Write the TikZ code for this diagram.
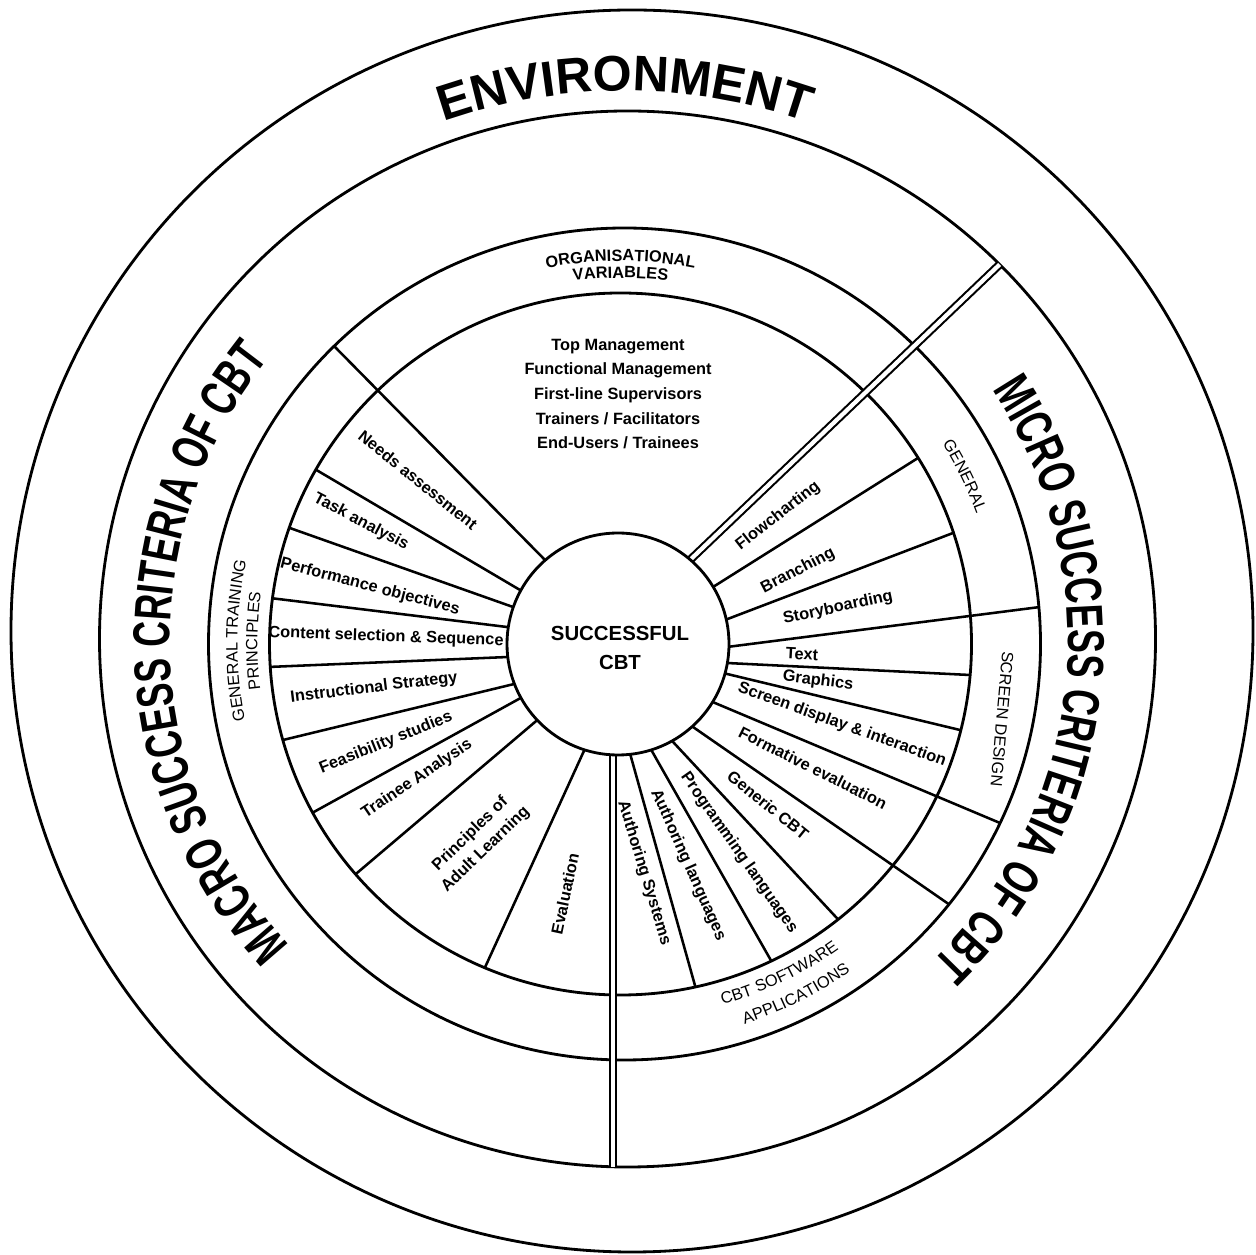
\documentclass[tikz,border=0pt]{standalone}
\usepackage{fontspec}
\setmainfont{Liberation Sans}
\newfontfamily\condfont[FakeStretch=0.69]{Liberation Sans}
\usetikzlibrary{calc,decorations.text}
\newcommand\myEnvFont{\fontsize{28.5}{34}\selectfont\bfseries}
\newcommand\myBigFont{\condfont\bfseries\fontsize{29.5}{34}\selectfont}
\newcommand\myOrgFont{\fontsize{9.3}{11}\selectfont\bfseries}
\newcommand\myBandFont{\fontsize{9.3}{11}\selectfont}
\newcommand\myspoke[2]{\draw[spoke] ($(#1)!-0.3!(#2)$) -- ($(#2)!-0.2!(#1)$);}
\begin{document}
\begin{tikzpicture}[x=0.02cm,y=0.02cm,
  ring/.style={line width=1.6pt},
  spoke/.style={line width=1.45pt},
  dbl/.style={double=white, double distance=2.4pt, line width=1.2pt},
  lab/.style={font=\fontsize{9.3}{12.5}\selectfont\bfseries, inner sep=0pt, align=center},
  band/.style={font=\myBandFont, inner sep=0pt, align=center},
  curved/.style={decorate, decoration={text along path, text align=center, text={#1}}}
]
\useasboundingbox (0,0) rectangle (1256,1254);
\fill[white] (0,0) rectangle (1256,1254);

% centres of the rings
\coordinate (c1) at (632,623);
\coordinate (c2) at (627.5,615);
\coordinate (c3) at (624.5,610);
\coordinate (c4) at (620.5,610);
\coordinate (c0) at (618,610);
\coordinate (ct) at (620,614);

\draw[ring] (c1) circle[radius=621];
\draw[ring] (c2) circle[radius=528];
\draw[ring] (c3) circle[radius=416];
\draw[ring] (c4) circle[radius=351];

% spoke end points
\coordinate (Bi) at (520,664); \coordinate (Bo) at (313,786);
\coordinate (Ci) at (513,647); \coordinate (Co) at (287,727);
\coordinate (Di) at (507,627); \coordinate (Do) at (270,656);
\coordinate (Ei) at (508,597); \coordinate (Eo) at (268,587);
\coordinate (Fi) at (510,569); \coordinate (Fo) at (283,514);
\coordinate (Gi) at (517,554); \coordinate (Go) at (312,441);
\coordinate (Hi) at (535,532); \coordinate (Ho) at (357,381);
\coordinate (Ii) at (583,501); \coordinate (Io) at (487,291);
\coordinate (Ti) at (631,497); \coordinate (To) at (694,272);
\coordinate (Ri) at (653,501); \coordinate (Ro) at (769,297);
\coordinate (Qi) at (674,511); \coordinate (Qo) at (834,339);
\coordinate (Ji) at (713,667); \coordinate (Jo) at (918,796);
\coordinate (Ki) at (725,634); \coordinate (Ko) at (953,721);
\coordinate (Mi) at (727,591); \coordinate (Mo) at (970,579);
\coordinate (Ni) at (723,581); \coordinate (No) at (960,524);
\coordinate (Ai) at (545,694); \coordinate (Ao) at (333,909);
\coordinate (Li) at (727,607); \coordinate (Lo) at (1040,647);
\coordinate (Oi) at (715,551); \coordinate (Oo) at (1000,431);
\coordinate (Pi) at (693,527); \coordinate (Po) at (950,349);
\coordinate (NEi) at (690,694); \coordinate (NEo) at (997,987);
\coordinate (Si) at (613,560); \coordinate (So) at (613,60);

\begin{scope}
  \clip (c4) circle[radius=351];
  \myspoke{Bi}{Bo} \myspoke{Ci}{Co} \myspoke{Di}{Do} \myspoke{Ei}{Eo}
  \myspoke{Fi}{Fo} \myspoke{Gi}{Go} \myspoke{Hi}{Ho} \myspoke{Ii}{Io}
  \myspoke{Ti}{To} \myspoke{Ri}{Ro} \myspoke{Qi}{Qo} \myspoke{Ji}{Jo}
  \myspoke{Ki}{Ko} \myspoke{Mi}{Mo} \myspoke{Ni}{No}
\end{scope}
\begin{scope}
  \clip (c3) circle[radius=416];
  \myspoke{Ai}{Ao} \myspoke{Li}{Lo} \myspoke{Oi}{Oo} \myspoke{Pi}{Po}
\end{scope}
\begin{scope}
  \clip (c2) circle[radius=528];
  \draw[dbl] ($(NEi)!-0.3!(NEo)$) -- ($(NEo)!-0.1!(NEi)$);
  \draw[dbl] (Si) -- (So);
\end{scope}

\draw[ring, fill=white] (c0) circle[radius=111];
\node[lab, font=\fontsize{11.6}{16.5}\selectfont\bfseries] (core) at (620,606) {SUCCESSFUL\\CBT};

% curved headings
\path[curved={|\myEnvFont|ENVIRONMENT}] ($(625,615)+(130:548)$) arc[start angle=130, end angle=50, radius=548];
\path[curved={|\myBigFont|MACRO SUCCESS CRITERIA OF CBT}] ($(ct)+(250:450)$) arc[start angle=250, end angle=114, radius=450];
\path[curved={|\myBigFont|MICRO SUCCESS CRITERIA OF CBT}] ($(ct)+(62:448)$) arc[start angle=62, end angle=-74, radius=448];
\path[curved={|\myOrgFont|ORGANISATIONAL}] ($(c4)+(135:383)$) arc[start angle=135, end angle=45, radius=383];
\path[curved={|\myOrgFont|VARIABLES}] ($(c4)+(135:366)$) arc[start angle=135, end angle=45, radius=366];
\path[curved={|\myBandFont|GENERAL TRAINING}] ($(c4)+(239.5:383)$) arc[start angle=239.5, end angle=119.5, radius=383];
\path[curved={|\myBandFont|PRINCIPLES}] ($(c4)+(239.5:363)$) arc[start angle=239.5, end angle=119.5, radius=363];
\path[curved={|\myBandFont|GENERAL}] ($(c4)+(66:379)$) arc[start angle=66, end angle=-14, radius=379];
\node[band, rotate=-95] (screendesign) at (1002,535) {SCREEN DESIGN};
\path[curved={|\myBandFont|CBT SOFTWARE}] ($(c4)+(-104.3:375)$) arc[start angle=-104.3, end angle=-24.3, radius=375];
\path[curved={|\myBandFont|APPLICATIONS}] ($(c4)+(-103.4:400)$) arc[start angle=-103.4, end angle=-23.4, radius=400];

% organisational variables list
\node[lab, font=\fontsize{9.3}{14}\selectfont\bfseries] (orglist) at (618,860)
  {Top Management\\Functional Management\\First-line Supervisors\\Trainers / Facilitators\\End-Users / Trainees};

% general training principles
\node[lab, rotate=-38.8] (needs) at (418,774) {Needs assessment};
\node[lab, rotate=-27.8] (task) at (361,732) {Task analysis};
\node[lab, rotate=-14.6] (perf) at (370,667) {Performance objectives};
\node[lab, rotate=-2] (content) at (386,617) {Content selection \& Sequence};
\node[lab, rotate=7] (instr) at (374,566) {Instructional Strategy};
\node[lab, rotate=22] (feas) at (386,511) {Feasibility studies};
\node[lab, rotate=34] (trainee) at (417,475) {Trainee Analysis};
\node[lab, rotate=44] (adult) at (478,412) {Principles of\\Adult Learning};
\node[lab, rotate=78] (evaluation) at (565,360) {Evaluation};

% micro side
\node[lab, rotate=38] (flow) at (778,738) {Flowcharting};
\node[lab, rotate=27.5] (branch) at (798,683) {Branching};
\node[lab, rotate=12] (story) at (838,646) {Storyboarding};
\node[lab, rotate=-3] (textlab) at (802,600) {Text};
\node[lab, rotate=-7] (graphics) at (818,573) {Graphics};
\node[lab, rotate=-19.8] (screen) at (842,529) {Screen display \& interaction};
\node[lab, rotate=-26.7] (formative) at (813,486) {Formative evaluation};
\node[lab, rotate=-39] (generic) at (768,449) {Generic CBT};
\node[lab, rotate=-55] (prog) at (739,401) {Programming languages};
\node[lab, rotate=-66] (authlang) at (688,389) {Authoring languages};
\node[lab, rotate=-73] (authsys) at (644,381) {Authoring Systems};
\end{tikzpicture}
\end{document}
